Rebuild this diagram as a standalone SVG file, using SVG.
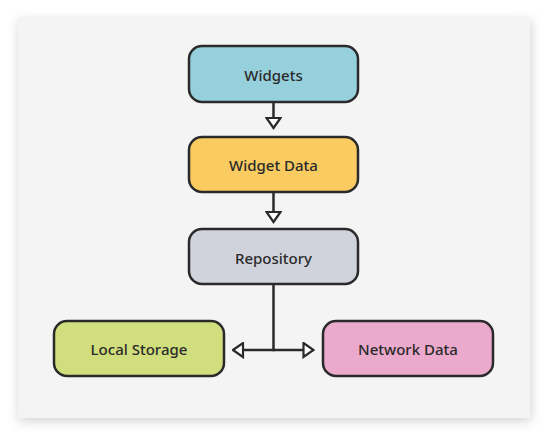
<svg xmlns="http://www.w3.org/2000/svg" width="548" height="437" viewBox="0 0 548 437">
  <style>
    .node rect { stroke: #2a2a2a; stroke-width: 2.5; }
    .node text { font-family: "Noto Sans", "Liberation Sans", sans-serif; font-size: 15px; font-weight: 500; fill: #2a2a2a; text-anchor: middle; dominant-baseline: central; }
    .conn { fill: none; stroke: #2a2a2a; stroke-width: 2.5; }
  </style>
  <defs>
    <filter id="shadow" x="-10%" y="-10%" width="120%" height="120%">
      <feDropShadow dx="1" dy="3" stdDeviation="6" flood-color="#000" flood-opacity="0.18"/>
    </filter>
    <marker id="tri" viewBox="0 0 13 17" refX="11.5" refY="8.5" markerWidth="13" markerHeight="17" markerUnits="userSpaceOnUse" orient="auto">
      <path d="M1.5,1.5 L11.5,8.5 L1.5,15.5 Z" fill="#ffffff" stroke="#2a2a2a" stroke-width="2.2" stroke-linejoin="miter"/>
    </marker>
  </defs>
  <rect x="0" y="0" width="548" height="437" fill="#ffffff"/>
  <rect x="18" y="18" width="512" height="400" fill="#f4f4f4" filter="url(#shadow)"/>

  <g id="connectors">
    <path class="conn" d="M273.5,102 L273.5,128" marker-end="url(#tri)"/>
    <path class="conn" d="M273.5,192 L273.5,222" marker-end="url(#tri)"/>
    <path class="conn" d="M273.5,284 L273.5,350"/>
    <path class="conn" d="M274.5,350 L233,350" marker-end="url(#tri)"/>
    <path class="conn" d="M272.5,350 L313.5,350" marker-end="url(#tri)"/>
  </g>

  <g id="widgets" class="node">
    <rect x="189" y="46" width="169" height="56" rx="13" fill="#96d0dc"/>
    <text x="273.5" y="75">Widgets</text>
  </g>
  <g id="widget-data" class="node">
    <rect x="189" y="137" width="169" height="55" rx="13" fill="#f9cb60"/>
    <text x="273.5" y="165">Widget Data</text>
  </g>
  <g id="repository" class="node">
    <rect x="189" y="229" width="169" height="55" rx="13" fill="#d0d3dc"/>
    <text x="273.5" y="258">Repository</text>
  </g>
  <g id="local-storage" class="node">
    <rect x="54" y="321" width="170" height="55" rx="13" fill="#d1de7d"/>
    <text x="139" y="349">Local Storage</text>
  </g>
  <g id="network-data" class="node">
    <rect x="323" y="321" width="170" height="55" rx="13" fill="#eba9cb"/>
    <text x="408" y="349">Network Data</text>
  </g>
</svg>
